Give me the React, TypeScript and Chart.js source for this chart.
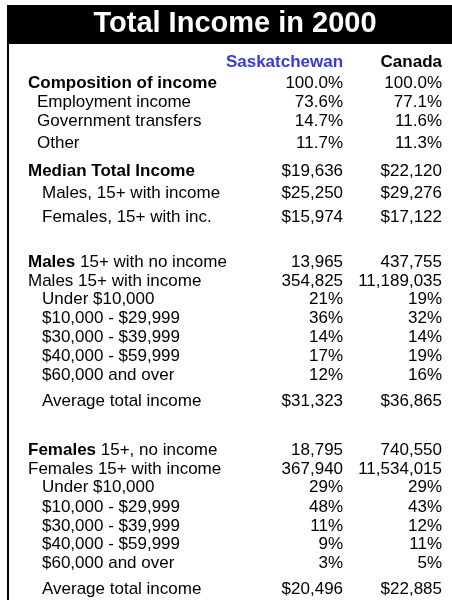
import { useEffect, useRef } from 'react';
import { Chart, registerables } from 'chart.js';

Chart.register(...registerables);

// ---------- DATA ----------
const TITLE = 'Total Income in 2000';
const columnHeaders = ['Saskatchewan', 'Canada'];

const rowLabelBold = [
  'Composition of income', '', '', '',
  'Median Total Income', '', '',
  'Males', '', '', '', '', '', '', '',
  'Females', '', '', '', '', '', '', '',
];

const rowLabelText = [
  '', 'Employment income', 'Government transfers', 'Other',
  '', 'Males, 15+ with income', 'Females, 15+ with inc.',
  ' 15+ with no income', 'Males 15+ with income', 'Under $10,000', '$10,000 - $29,999',
  '$30,000 - $39,999', '$40,000 - $59,999', '$60,000 and over', 'Average total income',
  ' 15+, no income', 'Females 15+ with income', 'Under $10,000', '$10,000 - $29,999',
  '$30,000 - $39,999', '$40,000 - $59,999', '$60,000 and over', 'Average total income',
];

const saskatchewanValues = [
  '100.0%', '73.6%', '14.7%', '11.7%',
  '$19,636', '$25,250', '$15,974',
  '13,965', '354,825', '21%', '36%', '14%', '17%', '12%', '$31,323',
  '18,795', '367,940', '29%', '48%', '11%', '9%', '3%', '$20,496',
];

const canadaValues = [
  '100.0%', '77.1%', '11.6%', '11.3%',
  '$22,120', '$29,276', '$17,122',
  '437,755', '11,189,035', '19%', '32%', '14%', '19%', '16%', '$36,865',
  '740,550', '11,534,015', '29%', '43%', '12%', '11%', '5%', '$22,885',
];

// ---------- LAYOUT / STYLE ----------
const ROW_INDENT_LEVEL = [0, 1, 1, 1, 0, 2, 2, 0, 0, 2, 2, 2, 2, 2, 2, 0, 0, 2, 2, 2, 2, 2, 2];
const INDENT_PX = [0, 9, 14];
// advance (in text lines) of each body row from the previous row (header is line 0)
const ROW_ADVANCE = [1.1, 1, 1, 1.15, 1.5, 1.17, 1.23, 2.4, 0.97, 0.97, 1, 1, 1, 0.98, 1.39, 2.55, 1, 0.97, 1.02, 1, 0.97, 0.97, 1.4];
const COLUMN_ANCHORS = [0, 0.761, 1]; // label column (left), Saskatchewan (right), Canada (right)
const Y_MIN = -1.21;
const Y_MAX = 28.05;

const FONT_FAMILY = '"Liberation Sans", Arial, Helvetica, sans-serif';
const BODY_SIZE = 17;
const SASK_COLOR = '#3a3ad6';
const FRAME_LEFT = 7;
const FRAME_LINE = 2;

const rowLines: number[] = [];
ROW_ADVANCE.reduce((acc, a) => {
  const v = acc + a;
  rowLines.push(v);
  return v;
}, 0);

const tablePlugin = {
  id: 'incomeTable',
  beforeDraw(chart: any) {
    const { ctx, width, height } = chart;
    const tb = chart.titleBlock;
    const top = tb ? tb.top : 0;
    const bottom = tb ? tb.bottom : 0;
    ctx.save();
    ctx.fillStyle = '#000';
    ctx.fillRect(FRAME_LEFT, top, width - FRAME_LEFT, bottom - top);
    ctx.fillRect(FRAME_LEFT, bottom, FRAME_LINE, height - bottom);
    ctx.restore();
  },
  afterDatasetsDraw(chart: any) {
    const { ctx } = chart;
    const bold = `bold ${BODY_SIZE}px ${FONT_FAMILY}`;
    const regular = `${BODY_SIZE}px ${FONT_FAMILY}`;
    ctx.save();
    ctx.textBaseline = 'alphabetic';

    // column headers
    const headerMeta = chart.getDatasetMeta(0);
    ctx.font = bold;
    ctx.textAlign = 'right';
    columnHeaders.forEach((h, c) => {
      const el = headerMeta.data[c];
      ctx.fillStyle = c === 0 ? SASK_COLOR : '#000';
      ctx.fillText(h, el.x, el.y);
    });

    // row labels
    const labelMeta = chart.getDatasetMeta(1);
    ctx.textAlign = 'left';
    ctx.fillStyle = '#000';
    rowLabelText.forEach((txt, i) => {
      const el = labelMeta.data[i];
      let x = el.x + INDENT_PX[ROW_INDENT_LEVEL[i]];
      const b = rowLabelBold[i];
      if (b) {
        ctx.font = bold;
        ctx.fillText(b, x, el.y);
        x += ctx.measureText(b).width;
      }
      if (txt) {
        ctx.font = regular;
        ctx.fillText(txt, x, el.y);
      }
    });

    // values
    ctx.font = regular;
    ctx.textAlign = 'right';
    [saskatchewanValues, canadaValues].forEach((vals, c) => {
      const meta = chart.getDatasetMeta(2 + c);
      vals.forEach((v, i) => {
        const el = meta.data[i];
        ctx.fillText(v, el.x, el.y);
      });
    });
    ctx.restore();
  },
};

export default function App() {
  const ref = useRef<HTMLCanvasElement | null>(null);

  useEffect(() => {
    if (!ref.current) return;
    const chart = new Chart(ref.current, {
      type: 'scatter',
      data: {
        datasets: [
          {
            label: 'headers',
            data: columnHeaders.map((_, c) => ({ x: COLUMN_ANCHORS[c + 1], y: 0 })),
          },
          {
            label: 'labels',
            data: rowLabelText.map((_, i) => ({ x: COLUMN_ANCHORS[0], y: rowLines[i] })),
          },
          {
            label: columnHeaders[0],
            data: saskatchewanValues.map((_, i) => ({ x: COLUMN_ANCHORS[1], y: rowLines[i] })),
          },
          {
            label: columnHeaders[1],
            data: canadaValues.map((_, i) => ({ x: COLUMN_ANCHORS[2], y: rowLines[i] })),
          },
        ],
      },
      options: {
        animation: false,
        responsive: false,
        events: [],
        elements: { point: { radius: 0, hoverRadius: 0 } },
        layout: { padding: { top: 5, left: 28, right: 10, bottom: 0 } },
        scales: {
          x: { type: 'linear', display: false, min: 0, max: 1 },
          y: { type: 'linear', display: false, reverse: true, min: Y_MIN, max: Y_MAX },
        },
        plugins: {
          legend: { display: false },
          tooltip: { enabled: false },
          title: {
            display: true,
            text: TITLE,
            color: '#fff',
            font: { family: FONT_FAMILY, size: 29, weight: 'bold', lineHeight: 1.2 },
            padding: { top: 2, bottom: 2.2 },
          },
        },
      },
      plugins: [tablePlugin],
    } as any);
    return () => chart.destroy();
  }, []);

  return (
    <div style={{ position: 'absolute', left: 0, top: 0, width: 452, height: 600, background: '#fff' }}>
      <canvas ref={ref} width={452} height={600} style={{ width: 452, height: 600, display: 'block' }} />
    </div>
  );
}
